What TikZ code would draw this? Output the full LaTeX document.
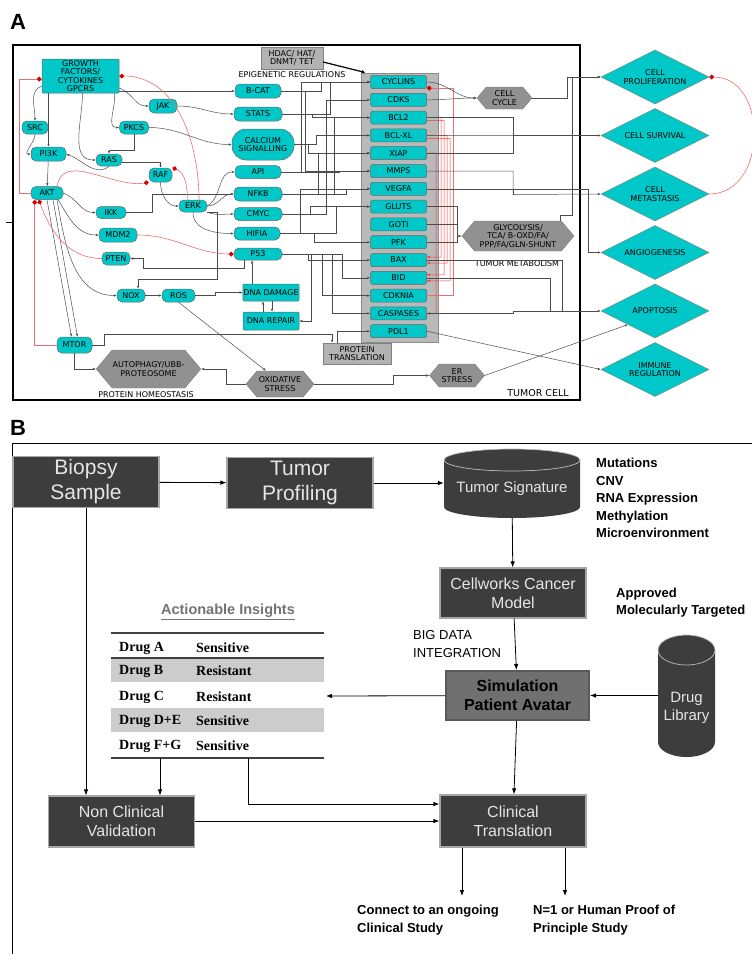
\documentclass[tikz,border=0pt]{standalone}
\usepackage{fontspec}
\setmainfont{Liberation Sans}
\newfontfamily\quadrinho{DejaVu Sans}
\newfontfamily\tabelafont{Liberation Serif}
\usepackage{xcolor}
\usetikzlibrary{arrows.meta, positioning, shapes.geometric, shapes.symbols, calc}

\definecolor{ciano}{RGB}{0,200,200}
\definecolor{cinzaescuro}{RGB}{61,61,61}
\definecolor{cinzamedio}{RGB}{145,145,145}
\definecolor{cinzasim}{RGB}{112,112,112}
\definecolor{vermelho}{RGB}{235,110,110}
\definecolor{losango}{RGB}{215,0,0}

\newcommand{\fonteA}{\quadrinho\fontsize{8}{8.6}\selectfont}

\begin{document}
\begin{tikzpicture}[x=1pt, y=1pt,
  gene/.style={rectangle, rounded corners=5pt, fill=ciano, draw=black!60, line width=0.5pt,
    font=\fonteA, inner sep=0.5pt, minimum height=13pt, align=center},
  colgene/.style={gene, rounded corners=1.5pt, minimum width=56pt},
  hexa/.style={signal, signal from=nowhere, signal to=east and west, signal pointer angle=100,
    fill=cinzamedio, draw=black!50, font=\fonteA, inner sep=0.5pt, align=center},
  cinzabox/.style={rectangle, fill=gray!60, draw=black!50, font=\fonteA, inner sep=1pt, align=center},
  desfecho/.style={diamond, aspect=2, fill=ciano, draw=black!50, minimum width=108pt,
    minimum height=54pt, inner sep=0pt, font=\fonteA, align=center},
  legenda/.style={font=\fonteA, inner sep=0pt},
  seta/.style={-{Latex[length=3pt,width=2.4pt]}, draw=black!70, line width=0.5pt},
  liga/.style={draw=black!70, line width=0.5pt},
  inib/.style={-{Diamond[length=5pt,width=5pt,color=losango,fill=losango]}, draw=vermelho, line width=0.6pt},
  setaverm/.style={-{Latex[length=3pt,width=2.4pt]}, draw=red!80, line width=0.5pt},
  caixa/.style={rectangle, fill=cinzaescuro, draw=gray!70, line width=1.2pt, text=white!90!black,
    align=center, minimum width=146pt, minimum height=51pt, inner sep=2pt, font=\fontsize{16}{19}\selectfont},
  caixagrande/.style={caixa, font=\fontsize{21}{25}\selectfont},
  textocil/.style={text=white!90!black, align=center, inner sep=0pt, font=\fontsize{15}{18}\selectfont},
  rotulo/.style={font=\bfseries\fontsize{13}{17.5}\selectfont, align=left, inner sep=0pt},
  celula/.style={font=\tabelafont\bfseries\fontsize{14}{16}\selectfont, inner sep=0pt},
  setab/.style={-{Latex[length=6pt,width=4.5pt]}, line width=0.8pt, draw=black},
  letra/.style={font=\bfseries\fontsize{22}{24}\selectfont, inner sep=0pt}]

\useasboundingbox (0,0) rectangle (752,-954);

% Letras dos paineis
\node[letra] (letraA) at (18,-22) {A};
\node[letra] (letraB) at (18,-428) {B};

% ================= Painel A =================
% Moldura da celula tumoral
\draw[line width=2pt] (13,-45) rectangle (580,-400);
\draw[line width=0.8pt] (6,-222) -- (13,-222);

% Coluna dos alvos
\node[fill=gray!55, draw=black!45, line width=0.8pt, minimum width=77pt, minimum height=269pt,
  inner sep=0pt] (coluna) at (399.5,-207.5) {};
\foreach \nome/\rotulo [count=\i from 0] in {ciclinas/CYCLINS, cdks/CDKS, bcl2/BCL2, bclxl/BCL-XL,
  xiap/XIAP, mmps/MMPS, vegfa/VEGFA, gluts/GLUTS, got1/GOTI, pfk/PFK, bax/BAX, bid/BID,
  cdkn1a/CDKNIA, caspases/CASPASES, pdl1/PDL1}
  \node[colgene] (\nome) at (398.5,{-82-17.8*\i}) {\rotulo};

% Sinalizacao (lado esquerdo)
\node[gene, rectangle, rounded corners=1pt, minimum width=77pt, minimum height=34pt] (gf) at (80.5,-76)
  {GROWTH\\FACTORS/\\CYTOKINES\\GPCRS};
\node[gene, minimum width=26pt] (src) at (35,-127.5) {SRC};
\node[gene, minimum width=35pt, minimum height=14pt] (pi3k) at (48.5,-154) {PI3K};
\node[gene, minimum width=28pt, minimum height=14pt] (jak) at (163,-106) {JAK};
\node[gene, minimum width=29pt] (pkcs) at (134,-127.5) {PKCS};
\node[gene, minimum width=26pt, minimum height=12pt] (ras) at (109,-160) {RAS};
\node[gene, minimum width=23pt, minimum height=14pt] (raf) at (160.5,-175) {RAF};
\node[gene, minimum width=32pt] (akt) at (47,-193) {AKT};
\node[gene, minimum width=30pt, minimum height=12pt] (ikk) at (111,-212.5) {IKK};
\node[gene, minimum width=28pt, minimum height=12pt] (erk) at (193,-206) {ERK};
\node[gene, minimum width=38pt, minimum height=14pt] (mdm2) at (118,-235) {MDM2};
\node[gene, minimum width=28pt] (pten) at (116,-258.5) {PTEN};
\node[gene, minimum width=28pt] (nox) at (131,-295.5) {NOX};
\node[gene, minimum width=33pt] (ros) at (178.5,-295.5) {ROS};
\node[gene, minimum width=35pt, minimum height=16pt] (mtor) at (74.5,-345) {MTOR};

% Reguladores ao lado da coluna
\node[gene, minimum width=46pt, minimum height=14pt] (bcat) at (258,-91) {B-CAT};
\node[gene, minimum width=48pt, minimum height=14pt] (stats) at (258,-114) {STATS};
\node[gene, rounded corners=14pt, minimum width=62pt, minimum height=31pt] (calcio) at (263,-144.5)
  {CALCIUM\\SIGNALLING};
\node[gene, minimum width=46pt] (ap1) at (258,-172) {API};
\node[gene, minimum width=48pt, minimum height=14pt] (nfkb) at (258,-194) {NFKB};
\node[gene, minimum width=48pt] (cmyc) at (258,-214) {CMYC};
\node[gene, minimum width=46pt] (hif) at (257,-233.5) {HIFIA};
\node[gene, minimum width=48pt, minimum height=12pt] (p53) at (258,-254) {P53};
\node[gene, rounded corners=1pt, minimum width=56pt, minimum height=17pt] (dnadano) at (271,-292.5) {DNA DAMAGE};
\node[gene, rounded corners=1pt, minimum width=56pt, minimum height=18pt] (dnareparo) at (271,-321) {DNA REPAIR};

% Caixas cinzas e hexagonos
\node[cinzabox, minimum width=62pt, minimum height=22pt] (hdac) at (292,-58) {HDAC/ HAT/\\DNMT/ TET};
\node[cinzabox, minimum width=68pt, minimum height=21pt] (traducao) at (357,-353.5) {PROTEIN\\TRANSLATION};
\node[hexa, minimum width=55pt, minimum height=22pt] (ciclo) at (504.5,-98) {CELL\\CYCLE};
\node[hexa, minimum width=112pt, minimum height=30pt] (glico) at (518,-236)
  {GLYCOLYSIS/\\TCA/ B-OXD/FA/\\PPP/FA/GLN-SHUNT};
\node[hexa, minimum width=68pt, minimum height=26pt] (oxid) at (280,-384) {OXIDATIVE\\STRESS};
\node[hexa, minimum width=55pt, minimum height=23pt] (er) at (457,-375.5) {ER\\STRESS};
\node[hexa, minimum width=89pt, minimum height=38pt] (autof) at (148.5,-369) {AUTOPHAGY/UBB-\\PROTEOSOME};

% Legendas
\node[legenda] (epigen) at (292,-75) {EPIGENETIC REGULATIONS};
\node[legenda] (homeo) at (146,-395) {PROTEIN HOMEOSTASIS};
\node[legenda] (metab) at (517,-264) {TUMOR METABOLISM};
\node[legenda, font=\quadrinho\fontsize{9.5}{10}\selectfont] (celula) at (538,-393) {TUMOR CELL};

% Desfechos
\foreach \nome/\rotulo [count=\i from 0] in {prolif/CELL\\PROLIFERATION, sobrev/CELL SURVIVAL,
  metast/CELL\\METASTASIS, angio/ANGIOGENESIS, apopt/APOPTOSIS, imune/IMMUNE\\REGULATION}
  \node[desfecho] (\nome) at (655,{-77-58.5*\i}) {\rotulo};

% Ligacoes da sinalizacao
\draw[seta] ([yshift=-10pt]gf.west) to[out=200,in=90] (src.north);
\draw[seta] (gf.south -| pi3k.north) -- (pi3k.north);
\draw[seta] ([xshift=2pt]gf.south) to[out=-90,in=180] (ras.west);
\draw[seta] (gf.east |- bcat.west) -- (bcat.west);
\draw[seta] ([yshift=-12pt]gf.east) to[out=-20,in=180] (jak.west);
\draw[seta] ([xshift=-5pt]gf.south east) to[out=-80,in=180] (pkcs.west);
\draw[seta] (src.south) to[out=-90,in=180] (pi3k.west);
\draw[seta] (jak.east) to[out=0,in=180] (stats.west);
\draw[seta] (pkcs.east) to[out=0,in=180] (calcio.west);
\draw[seta] (pkcs.south) -- ++(0,-16) -| (ras.north);
\draw[seta] (ras.south) to[out=-140,in=-20] (pi3k.east);
\draw[seta] ([yshift=-2pt]ras.east) -| (raf.north);
\draw[seta] (pi3k) -- (akt);
\draw[seta] (raf.south) to[out=-90,in=180] (erk.west);
\draw[seta] (erk.east) to[out=30,in=180] (ap1.west);
\draw[seta] (erk.east) to[out=0,in=180] (nfkb.west);
\draw[seta] (erk.south east) to[out=-20,in=180] (cmyc.west);
\draw[seta] (erk.south) to[out=-90,in=180] (hif.west);
\draw[seta] (akt.east) to[out=-20,in=180] (ikk.west);
\draw[seta] ([xshift=-5pt]akt.south east) to[out=-60,in=180] (mdm2.west);
\draw[seta] (akt.south) -- ([xshift=-3pt]mtor.north);
\draw[seta] ([xshift=6pt]akt.south) -- ([xshift=3pt]mtor.north);
\draw[seta] ([xshift=10pt]akt.south) to[out=-80,in=180] (nox.west);
\draw[seta] (ikk.east) -- (152,-212.5) |- (nfkb.west);
\draw[seta] ([xshift=-14pt]p53.south) |- (143,-268) |- (pten.east);
\draw[seta] (erk.south east) -| (217,-279) -| ([xshift=7pt]nox.north);
\draw[seta] (nox) -- (ros);
\draw[seta] (ros.east) -- ++(20,0) |- (dnadano.west);
\draw[seta] ([xshift=-19pt]dnadano.north) -- ([xshift=-19pt]dnadano.north |- p53.south);
\draw[seta] ([xshift=-8pt]dnareparo.north) -- ([xshift=-8pt]dnadano.south);
\draw[seta] ([xshift=1pt]dnadano.south) -- ([xshift=1pt]dnareparo.north);
\draw[seta] (p53.east) -| (311,-321) -- (dnareparo.east);
\draw[seta] (ros.south) -- ([xshift=-14pt]oxid.north);
\draw[seta] (mtor.south) |- (autof.west);
\draw[seta] (mtor.east) -- ++(12,0) |- (332,-334) -- ([xshift=-25pt]traducao.north);
\draw[seta] (oxid.west) -| ([xshift=25pt]autof.east) -- (autof.east);
\draw[seta] (oxid.east) -- (393,-384) |- (er.west);
\draw[seta] ([xshift=-20pt]traducao.north) |- (pdl1.west);

% Reguladores -> alvos da coluna
\foreach \de/\para/\dx in {bcat/ciclinas/40, bcat/mmps/24, stats/bcl2/30, stats/ciclinas/48,
  calcio/bclxl/22, calcio/xiap/14, ap1/mmps/58, ap1/ciclinas/20, nfkb/xiap/36, nfkb/bcl2/52,
  nfkb/vegfa/64, cmyc/cdks/44, cmyc/gluts/28, hif/vegfa/20, hif/gluts/56, hif/pfk/34,
  p53/bax/26, p53/cdkn1a/40, p53/bid/60, p53/caspases/50}
  \draw[seta] (\de.east) -| ($(\de.east |- \para.west)+(\dx,0)$) -- (\para.west);

% Fator epigenetico
\draw[-{Latex[length=4pt,width=3.5pt]}, line width=1.2pt] ([yshift=-4pt]hdac.east) -- ([xshift=5pt]coluna.north west);

% Inibicoes
\draw[inib] (akt.west) -| (19,-79) -- ([yshift=-3pt]gf.west);
\draw[inib] ([xshift=6pt]erk.north) to[out=90,in=0] (gf.east);
\draw[inib] ([xshift=-5pt]erk.north) to[out=95,in=-20] (raf.north east);
\draw[inib] ([xshift=10pt]akt.north) to[out=80,in=190] (raf.south west);
\draw[inib] (mtor.west) -| ([xshift=4pt]akt.south west);
\draw[inib] (pten.west) to[out=180,in=-70] ([xshift=8pt]akt.south west);
\draw[inib] (mdm2.east) to[out=0,in=180] (p53.west);
\draw[inib] (cdkn1a.east) -| (453,-88) -- ([yshift=-6pt]ciclinas.east);
\draw[inib, looseness=1.3] (metast.east) to[out=0,in=0] (prolif.east);

% Alvos anti-apoptoticos
\draw[setaverm] (bcl2.east) -| (441,-257) -- ([yshift=3pt]bax.east);
\draw[setaverm] (bclxl.east) -| (447,-263) -- ([yshift=-3pt]bax.east);
\draw[setaverm] ([yshift=-3pt]bcl2.east) -| (444,-274.8) -- ([yshift=3pt]bid.east);
\draw[setaverm] ([yshift=-3pt]bclxl.east) -| (450,-280.8) -- ([yshift=-3pt]bid.east);
\draw[setaverm] (xiap.east) -| (436,-313.4) -- (caspases.east);

% Alvos -> desfechos
\draw[seta] (ciclinas.east) to[out=0,in=180] (ciclo.west);
\draw[seta] (cdks.east) to[out=0,in=180] (ciclo.west);
\draw[seta] (ciclo.east) -| (567,-77) -- (prolif.west);
\draw[seta] (bcl2.east) -| (513,-135.5) -- (sobrev.west);
\draw[liga] (bclxl.east) -- (513,-135.4);
\draw[liga] (xiap.east) -| (513,-135.5);
\draw[seta] (mmps.east) -| (513,-194.5) -- (metast.west);
\draw[liga] (vegfa.east) -| (513,-194.5);
\draw[seta] (vegfa.east) -| (588,-252.5) -- (angio.west);
\draw[seta] (gluts.east) -| (457,-236) -- (glico.west);
\draw[liga] (got1.east) -| (457,-236);
\draw[liga] (pfk.east) -| (457,-236);
\draw[seta] ([xshift=42pt]glico.north) |- ++(12,6) |- (prolif.west);
\draw[seta] (caspases.east) -| (513,-311) -- (apopt.west);
\draw[liga] (bid.east) -| (550,-311);
\draw[liga] (bax.east) -| (562,-311);
\draw[seta] (er.east) -- (apopt.south west);
\draw[seta] (pdl1.east) -- (imune.west);

% ================= Painel B =================
\draw[line width=0.8pt] (12,-954) -- (12,-443) -- (752,-443);

\node[caixagrande] (biopsia) at (86,-482) {Biopsy\\Sample};
\node[caixagrande] (perfil) at (300,-483) {Tumor\\Profiling};

% Cilindro da assinatura
\fill[cinzaescuro] (444,-460) -- (444,-507) arc[start angle=180, end angle=360, x radius=68, y radius=11]
  -- (580,-460) arc[start angle=0, end angle=180, x radius=68, y radius=11] -- cycle;
\draw[white!75!black, line width=0.7pt] (512,-460) ellipse [x radius=68, y radius=11];
\node[textocil, minimum width=136pt, minimum height=58pt] (assinatura) at (512,-489) {Tumor Signature};

\node[rotulo, anchor=north west] (omicas) at (596,-458)
  {Mutations\\CNV\\RNA Expression\\Methylation\\Microenvironment};

\node[caixa, minimum height=50pt] (modelo) at (513,-593) {Cellworks Cancer\\Model};
\node[rotulo, font=\bfseries\fontsize{13}{17}\selectfont, anchor=north west] (aprovados) at (616,-588)
  {Approved\\Molecularly Targeted};
\node[rotulo, font=\fontsize{13}{18}\selectfont, anchor=north west] (bigdata) at (413,-630)
  {BIG DATA\\INTEGRATION};

\node[caixa, fill=cinzasim, draw=black!65, line width=2pt, text=black, minimum width=143pt,
  minimum height=49pt, font=\bfseries\fontsize{16}{19}\selectfont] (simulacao) at (517.5,-695.5)
  {Simulation\\Patient Avatar};

% Cilindro da biblioteca
\fill[cinzaescuro] (658,-650) -- (658,-742) arc[start angle=180, end angle=360, x radius=28.5, y radius=15]
  -- (715,-650) arc[start angle=0, end angle=180, x radius=28.5, y radius=15] -- cycle;
\draw[white!75!black, line width=0.7pt] (686.5,-650) ellipse [x radius=28.5, y radius=15];
\node[textocil, minimum width=57pt] (biblioteca) at (686.5,-708) {Drug\\Library};

% Tabela de resultados
\node[font=\bfseries\fontsize{14.5}{16}\selectfont, text=black!55] (insights) at (228,-612)
  {\underline{Actionable Insights}};
\fill[gray!40] (111,-658) rectangle (324,-682);
\fill[gray!40] (111,-708) rectangle (324,-732);
\draw[line width=1.1pt, black!75] (111,-633) -- (324,-633);
\draw[line width=1.1pt, black!75] (111,-658) -- (324,-658);
\draw[line width=1.1pt, black!75] (111,-758) -- (324,-758);
\foreach \droga/\resp/\y [count=\i] in {Drug A/Sensitive/648, Drug B/Resistant/671, Drug C/Resistant/697,
  Drug D+E/Sensitive/721, Drug F+G/Sensitive/746}
{
  \node[celula, anchor=west] (droga\i) at (119,-\y) {\droga};
  \node[celula, anchor=west] (resp\i) at (196,-\y) {\resp};
}
\coordinate (tabdir) at (326,-696);
\coordinate (tabA) at (160,-758);
\coordinate (tabB) at (248,-758);

\node[caixa] (naoclinica) at (121.5,-821.5) {Non Clinical\\Validation};
\node[caixa, minimum height=52pt] (clinica) at (513,-821) {Clinical\\Translation};

\node[rotulo, inner ysep=9pt, anchor=north west] (conectar) at (357,-896)
  {Connect to an ongoing\\Clinical Study};
\node[rotulo, inner ysep=9pt, anchor=north west] (prova) at (533,-896)
  {N=1 or Human Proof of\\Principle Study};

% Fluxo do painel B
\draw[setab] (biopsia) -- (perfil);
\draw[setab] (perfil.east) -- (perfil.east -| assinatura.west);
\draw[setab] (assinatura) -- (modelo);
\draw[setab] (modelo) -- (simulacao);
\draw[setab] (biblioteca.west |- simulacao) -- (simulacao);
\draw[setab] (simulacao) -- (tabdir);
\draw[setab] (simulacao) -- (clinica);
\draw[setab] (biopsia.south) -- (biopsia.south |- naoclinica.north);
\draw[setab] (tabA) -- (tabA |- naoclinica.north);
\draw[setab] (tabB) |- ([yshift=17pt]clinica.west);
\draw[setab] (naoclinica.east |- clinica.west) -- (clinica.west);
\draw[setab] ([xshift=-51pt]clinica.south) -- ([xshift=-51pt]clinica.south |- conectar.north);
\draw[setab] ([xshift=52pt]clinica.south) -- ([xshift=52pt]clinica.south |- prova.north);

\end{tikzpicture}
\end{document}
